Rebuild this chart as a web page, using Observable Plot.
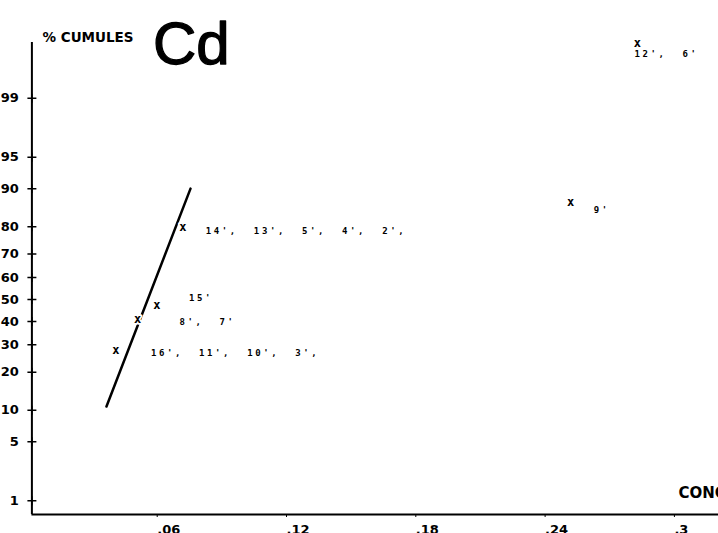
<!DOCTYPE html>
<html><head><meta charset="utf-8">
<script src="https://cdn.jsdelivr.net/npm/d3@7"></script>
<script src="https://cdn.jsdelivr.net/npm/@observablehq/plot@0.6"></script>
<style>
html,body{margin:0;padding:0;background:#fff;overflow:hidden;width:718px;height:533px}
#chart svg{display:block;overflow:visible}
svg text{white-space:pre}
</style></head><body><div id="chart"></div>
<script>
// ---- data ----
const concentrations = [0.039, 0.049, 0.058, 0.070, 0.250, 0.281];
const cumulativePercent = [27.8, 40.9, 47.2, 79.7, 86.9, 99.85];
const sampleLabels = ["16',  11',  10',  3',", "8',  7'", "15'", "14',  13',  5',  4',  2',", "9'", "12',  6'"];
const fitConc = [0.0346, 0.0736];
const fitPercent = [10.8, 90];
const yTickValues = [1, 5, 10, 20, 30, 40, 50, 60, 70, 80, 90, 95, 99];
const xTickValues = [0.06, 0.12, 0.18, 0.24, 0.3];
const xTickLabels = [".06", ".12", ".18", ".24", ".3"];

// inverse normal CDF (probability-paper scale)
function probit(p){
  const a=[-3.969683028665376e+01,2.209460984245205e+02,-2.759285104469687e+02,1.383577518672690e+02,-3.066479806614716e+01,2.506628277459239e+00];
  const b=[-5.447609879822406e+01,1.615858368580409e+02,-1.556989798598866e+02,6.680131188771972e+01,-1.328068155288572e+01];
  const c=[-7.784894002430293e-03,-3.223964580411365e-01,-2.400758277161838e+00,-2.549732539343734e+00,4.374664141464968e+00,2.938163982698783e+00];
  const d=[7.784695709041462e-03,3.224671290700398e-01,2.445134137142996e+00,3.754408661907416e+00];
  const pl=0.02425, ph=1-pl; let q,r;
  if(p<pl){q=Math.sqrt(-2*Math.log(p));return (((((c[0]*q+c[1])*q+c[2])*q+c[3])*q+c[4])*q+c[5])/((((d[0]*q+d[1])*q+d[2])*q+d[3])*q+1);}
  if(p<=ph){q=p-0.5;r=q*q;return (((((a[0]*r+a[1])*r+a[2])*r+a[3])*r+a[4])*r+a[5])*q/(((((b[0]*r+b[1])*r+b[2])*r+b[3])*r+b[4])*r+1);}
  q=Math.sqrt(-2*Math.log(1-p));return -(((((c[0]*q+c[1])*q+c[2])*q+c[3])*q+c[4])*q+c[5])/((((d[0]*q+d[1])*q+d[2])*q+d[3])*q+1);
}

const points = concentrations.map((c, i) => ({conc: c, z: probit(cumulativePercent[i] / 100), label: sampleLabels[i]}));
const fitLine = fitConc.map((c, i) => ({conc: c, z: probit(fitPercent[i] / 100)}));
const yTickZ = yTickValues.map(p => probit(p / 100));
const yDomain = [-2.486, 2.971];

const FONT = "DejaVu Sans";
const MONO = "DejaVu Sans Mono";
const labelDx = [35, 42, 32, 23, 23, -3];
const labelDy = [3, 3, -7, 4, 8, 11];

const marks = [
  Plot.ruleX([0], {strokeWidth: 2}),
  Plot.ruleY([yDomain[0]], {strokeWidth: 2}),
  Plot.dot(yTickZ, {x: 0, y: d => d, symbol: "plus", r: 3, strokeWidth: 1.5, stroke: "black"}),
  Plot.axisY({ticks: yTickZ, tickSize: 0, tickPadding: 13, label: null,
    tickFormat: d => String(yTickValues[yTickZ.indexOf(d)]),
    fontSize: 13, fontWeight: "bold", fontFamily: FONT}),
  Plot.axisX({ticks: xTickValues, tickSize: 3, tickPadding: 7, label: null,
    tickFormat: d => xTickLabels[xTickValues.indexOf(d)],
    textAnchor: "start", dx: -4, fontSize: 13, fontWeight: "bold", fontFamily: FONT}),
  Plot.line(fitLine, {x: "conc", y: "z", strokeWidth: 2.5}),
  Plot.text(points, {x: "conc", y: "z", text: () => "x", fontFamily: MONO, fontWeight: "bold", fontSize: 12,
    lineAnchor: "middle", stroke: "white", strokeWidth: 3.5, fill: "black", paintOrder: "stroke"}),
  ...points.map((p, i) => Plot.text([p], {x: "conc", y: "z", text: "label", textAnchor: "start", lineAnchor: "middle",
    dx: labelDx[i], dy: labelDy[i], fontFamily: MONO, fontWeight: "bold", fontSize: 9})),
  Plot.text(["% CUMULES"], {frameAnchor: "top-left", textAnchor: "start", lineAnchor: "middle",
    dx: 10.6, dy: -5, fontFamily: FONT, fontWeight: "bold", fontSize: 13.5}),
  Plot.text(["Cd"], {frameAnchor: "top-left", textAnchor: "start", lineAnchor: "bottom",
    dx: 121, dy: 21, fontFamily: "Liberation Sans", fontSize: 60, fill: "black", stroke: "black", strokeWidth: 1.3}),
  Plot.text(["CONC"], {x: xTickValues[4], frameAnchor: "bottom", textAnchor: "start", lineAnchor: "middle",
    dy: -21, fontFamily: FONT, fontWeight: "bold", fontSize: 15})
];

const chart = Plot.plot({
  width: 718, height: 545,
  marginLeft: 31.4, marginRight: 0, marginTop: 42, marginBottom: 31,
  style: {background: "white", color: "black"},
  x: {domain: [0, 0.3186]},
  y: {domain: yDomain},
  marks
});
// wide letter spacing of the sample-number labels
chart.querySelectorAll('g[aria-label="text"] text').forEach(t => {
  if (/'/.test(t.textContent)) t.style.letterSpacing = "2.6px";
});
document.getElementById("chart").appendChild(chart);
</script>
</body></html>
